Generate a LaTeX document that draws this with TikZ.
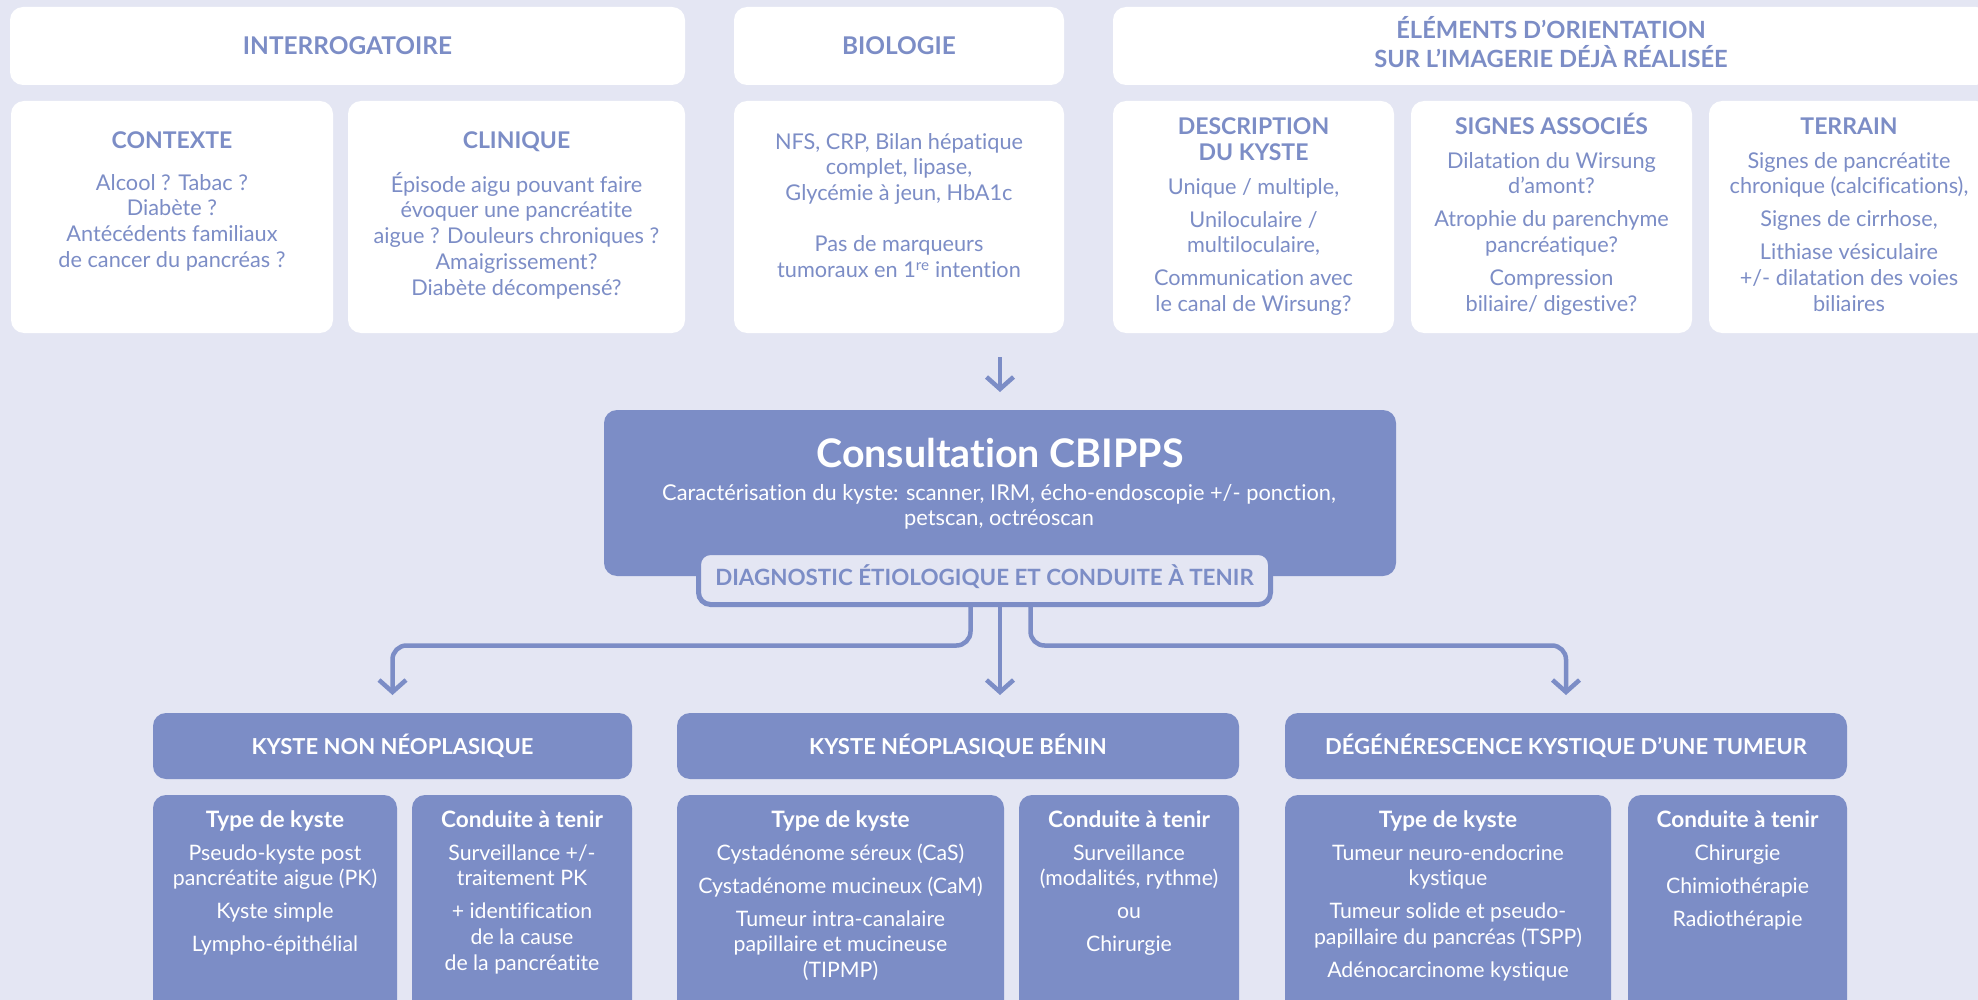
\documentclass[tikz,border=0pt]{standalone}
\usepackage{fontspec}
\setmainfont{Lato}[Ligatures=NoCommon]
\usetikzlibrary{arrows.meta}
\definecolor{bg}{RGB}{228,230,243}
\definecolor{cb}{RGB}{124,141,198}
\begin{document}
\begin{tikzpicture}[x=1pt,y=-1pt,
  wbox/.style={fill=white, rounded corners=13pt, inner sep=0pt, outer sep=0pt},
  bbox/.style={fill=cb, rounded corners=13pt, inner sep=0pt, outer sep=0pt},
  body/.style={font=\fontsize{21.7}{25.7}\selectfont, text=cb, align=center, inner sep=0pt, anchor=north},
  wbody/.style={body, text=white, font=\fontsize{21.3}{25.7}\selectfont},
  hdr/.style={font=\bfseries\fontsize{23}{28}\selectfont, text=cb, inner sep=0pt, anchor=base},
  thdr/.style={hdr, font=\bfseries\fontsize{24.4}{29}\selectfont},
  whdr/.style={hdr, text=white, font=\bfseries\fontsize{22}{26}\selectfont},
  ttl/.style={hdr, text=white, font=\bfseries\fontsize{22.6}{26}\selectfont},
  arr/.style={draw=cb, line width=4.5pt, -{Straight Barb[length=12pt,width=27pt]}},
]
\useasboundingbox (0,0) rectangle (1978,1000);
\fill[bg] (0,0) rectangle (1978,1000);
\clip (0,0) rectangle (1978,1000);

% ---- top headers
\node[wbox, minimum width=675pt, minimum height=78pt] (intH) at (347.5,46) {};
\node[thdr] (intHt) at (347.5,55) {INTERROGATOIRE};
\node[wbox, minimum width=330pt, minimum height=78pt] (bioH) at (899,46) {};
\node[thdr] (bioHt) at (899,55) {BIOLOGIE};
\node[wbox, minimum width=876pt, minimum height=78pt] (eleH) at (1551,46) {};
\node[thdr, font=\bfseries\fontsize{23.7}{28}\selectfont] (eleHa) at (1551,39) {ÉLÉMENTS D’ORIENTATION};
\node[thdr, font=\bfseries\fontsize{23.7}{28}\selectfont] (eleHb) at (1551,68) {SUR L’IMAGERIE DÉJÀ RÉALISÉE};

% ---- second row
\node[wbox, minimum width=322pt, minimum height=232pt] (ctx) at (172,217) {};
\node[wbox, minimum width=337pt, minimum height=232pt] (cli) at (516.5,217) {};
\node[wbox, minimum width=330pt, minimum height=232pt] (bio) at (899,217) {};
\node[wbox, minimum width=281pt, minimum height=232pt] (desc) at (1253.5,217) {};
\node[wbox, minimum width=281pt, minimum height=232pt] (sig) at (1551.5,217) {};
\node[wbox, minimum width=280pt, minimum height=232pt] (ter) at (1849,217) {};

\node[hdr] (ctxT) at (172,149) {CONTEXTE};
\node[body] (ctxB) at (172,172) {\strut Alcool ? Tabac ?\\Diabète ?\\Antécédents familiaux\\de cancer du pancréas ?};
\node[hdr] (cliT) at (516.5,149) {CLINIQUE};
\node[body] (cliB) at (516.5,172) {\strut Épisode aigu pouvant faire\\évoquer une pancréatite\\aigue ? Douleurs chroniques ?\\Amaigrissement?\\Diabète décompensé?};
\node[body] (bioB) at (899,131) {\strut NFS, CRP, Bilan hépatique\\complet, lipase,\\Glycémie à jeun, HbA1c\\[25.7pt]Pas de marqueurs\\tumoraux en 1\textsuperscript{re} intention};
\node[hdr] (descTa) at (1253.5,135) {DESCRIPTION};
\node[hdr] (descTb) at (1253.5,161) {DU KYSTE};
\node[body] (descB) at (1253.5,176) {\strut Unique / multiple,\\[7.3pt]Uniloculaire /\\multiloculaire,\\[7.3pt]Communication avec\\le canal de Wirsung?};
\node[hdr] (sigT) at (1551.5,135) {SIGNES ASSOCIÉS};
\node[body] (sigB) at (1551.5,150) {\strut Dilatation du Wirsung\\d’amont?\\[7.3pt]Atrophie du parenchyme\\pancréatique?\\[7.3pt]Compression\\biliaire/ digestive?};
\node[hdr] (terT) at (1849,135) {TERRAIN};
\node[body] (terB) at (1849,150) {\strut Signes de pancréatite\\chronique (calcifications),\\[7.3pt]Signes de cirrhose,\\[7.3pt]Lithiase vésiculaire\\+/- dilatation des voies\\biliaires};

% ---- consultation
\node[bbox, minimum width=792pt, minimum height=166pt] (cons) at (1000,493) {};
\node[font=\bfseries\fontsize{39.4}{46}\selectfont, text=white, inner sep=0pt, anchor=base] (consT) at (1000,467) {Consultation CBIPPS};
\node[wbody, font=\fontsize{21.8}{25}\selectfont] (consS) at (999,482.5) {\strut Caractérisation du kyste: scanner, IRM, écho-endoscopie +/- ponction,\\petscan, octréoscan};
\node[draw=cb, line width=5pt, fill=bg, rounded corners=12pt, minimum width=572pt, minimum height=52pt, inner sep=0pt, outer sep=2.5pt] (diag) at (984.5,578.5) {};
\node[hdr, font=\bfseries\fontsize{22.4}{26}\selectfont] (diagT) at (984.5,585) {DIAGNOSTIC ÉTIOLOGIQUE ET CONDUITE À TENIR};

% ---- bottom headers
\node[bbox, minimum width=479pt, minimum height=66pt] (h1) at (392.5,746) {};
\node[whdr] (h1t) at (392.5,754) {KYSTE NON NÉOPLASIQUE};
\node[bbox, minimum width=562pt, minimum height=66pt] (h2) at (958,746) {};
\node[whdr] (h2t) at (958,754) {KYSTE NÉOPLASIQUE BÉNIN};
\node[bbox, minimum width=562pt, minimum height=66pt] (h3) at (1566,746) {};
\node[whdr] (h3t) at (1566,754) {DÉGÉNÉRESCENCE KYSTIQUE D’UNE TUMEUR};

% ---- bottom boxes
\node[bbox, minimum width=244pt, minimum height=230pt] (t1) at (275,910) {};
\node[bbox, minimum width=220pt, minimum height=230pt] (c1) at (522,910) {};
\node[bbox, minimum width=327pt, minimum height=230pt] (t2) at (840.5,910) {};
\node[bbox, minimum width=220pt, minimum height=230pt] (c2) at (1129,910) {};
\node[bbox, minimum width=326pt, minimum height=230pt] (t3) at (1448,910) {};
\node[bbox, minimum width=219pt, minimum height=230pt] (c3) at (1737.5,910) {};

\node[ttl] (t1T) at (275,827) {Type de kyste};
\node[wbody] (t1B) at (275,842) {\strut Pseudo-kyste post\\pancréatite aigue (PK)\\[7.3pt]Kyste simple\\[7.3pt]Lympho-épithélial};
\node[ttl] (c1T) at (522,827) {Conduite à tenir};
\node[wbody] (c1B) at (522,842) {\strut Surveillance +/-\\traitement PK\\[7.3pt]+ identification\\de la cause\\de la pancréatite};
\node[ttl] (t2T) at (840.5,827) {Type de kyste};
\node[wbody] (t2B) at (840.5,842) {\strut Cystadénome séreux (CaS)\\[7.3pt]Cystadénome mucineux (CaM)\\[7.3pt]Tumeur intra-canalaire\\papillaire et mucineuse\\(TIPMP)};
\node[ttl] (c2T) at (1129,827) {Conduite à tenir};
\node[wbody] (c2B) at (1129,842) {\strut Surveillance\\(modalités, rythme)\\[7.3pt]ou\\[7.3pt]Chirurgie};
\node[ttl] (t3T) at (1448,827) {Type de kyste};
\node[wbody] (t3B) at (1448,842) {\strut Tumeur neuro-endocrine\\kystique\\[7.3pt]Tumeur solide et pseudo-\\papillaire du pancréas (TSPP)\\[7.3pt]Adénocarcinome kystique};
\node[ttl] (c3T) at (1737.5,827) {Conduite à tenir};
\node[wbody] (c3B) at (1737.5,842) {\strut Chirurgie\\[7.3pt]Chimiothérapie\\[7.3pt]Radiothérapie};

% ---- connectors
\draw[arr] ([yshift=53pt]cons.north) -- ([yshift=18pt]cons.north);
\draw[arr] (diag.south -| cons.south) -- ([yshift=18pt]h2.north -| cons.south);
\draw[arr, rounded corners=14pt] ([xshift=-14pt]diag.south) -- ++(0,38.5) -| ([yshift=18pt]h1.north);
\draw[arr, rounded corners=14pt] ([xshift=46pt]diag.south) -- ++(0,38.5) -| ([yshift=18pt]h3.north);
\end{tikzpicture}
\end{document}
